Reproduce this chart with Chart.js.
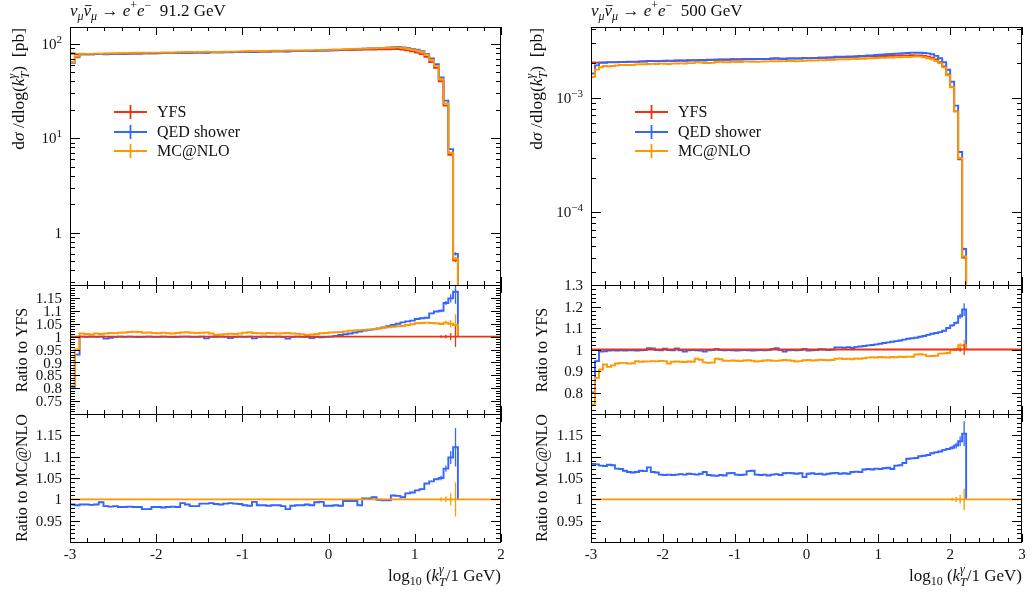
<!DOCTYPE html>
<html>
<head>
<meta charset="utf-8">
<script src="https://cdn.jsdelivr.net/npm/chart.js@4.4.0/dist/chart.umd.min.js"></script>
<style>
    html, body { margin: 0; padding: 0; background: #fff; }
    #wrap { position: relative; width: 1033px; height: 592px; }
    #wrap canvas { position: absolute; left: 0; top: 0; }
</style>
</head>
<body>
<div id="wrap">
    <canvas id="main91" width="1033" height="592"></canvas>
    <canvas id="ratioYfs91" width="1033" height="592"></canvas>
    <canvas id="ratioMc91" width="1033" height="592"></canvas>
    <canvas id="main500" width="1033" height="592"></canvas>
    <canvas id="ratioYfs500" width="1033" height="592"></canvas>
    <canvas id="ratioMc500" width="1033" height="592"></canvas>
</div>
<script>
// binning in log10(kT/GeV): 18 bins per decade, starting at -3
const xLo = -3;
const binW = 1 / 18;

// ---- 91.2 GeV: YFS d(sigma)/dlog(kT) [pb], one value per bin ----
const yfs91 = [79.0, 77.4, 77.6, 77.7, 77.8, 78.0, 78.1, 78.3, 78.4, 78.5,
    78.7, 78.8, 79.0, 79.1, 79.2, 79.4, 79.5, 79.7, 79.8, 79.9,
    80.1, 80.2, 80.4, 80.5, 80.6, 80.8, 80.9, 81.1, 81.2, 81.4,
    81.5, 81.7, 81.8, 82.0, 82.1, 82.3, 82.4, 82.6, 82.7, 82.9,
    83.0, 83.2, 83.4, 83.5, 83.7, 83.9, 84.0, 84.2, 84.4, 84.5,
    84.7, 84.9, 85.1, 85.3, 85.5, 85.7, 85.9, 86.1, 86.3, 86.5,
    86.7, 86.9, 87.1, 87.3, 87.5, 87.7, 87.9, 88.1, 88.3, 87.0,
    85.4, 83.4, 81.2, 78.0, 72.8, 64.2, 55.7, 40.2, 22.2, 6.7,
    0.51];
const qedOverYfs91 = [0.80, 0.93, 1.0, 0.999, 1.0, 0.999, 1.0, 0.992, 0.995, 0.999,
    1.0, 0.999, 1.0, 0.999, 0.998, 0.999, 1.0, 0.999, 0.999, 1.0,
    0.999, 0.998, 0.999, 1.0, 1.0, 0.999, 0.999, 1.0, 0.993, 0.999,
    0.999, 1.0, 0.999, 0.994, 0.999, 1.0, 0.999, 1.0, 0.993, 0.999,
    1.0, 0.999, 0.999, 1.0, 0.999, 0.992, 0.999, 1.0, 0.999, 0.999,
    0.994, 0.998, 0.997, 0.999, 1.0, 1.003, 1.006, 1.009, 1.012, 1.016,
    1.02, 1.023, 1.026, 1.028, 1.032, 1.035, 1.04, 1.045, 1.05, 1.055,
    1.059, 1.062, 1.068, 1.071, 1.073, 1.09, 1.097, 1.1, 1.13, 1.148,
    1.174];
const mcOverYfs91 = [0.81, 0.95, 1.012, 1.01, 1.008, 1.012, 1.01, 1.012, 1.014, 1.013,
    1.015, 1.016, 1.018, 1.019, 1.018, 1.015, 1.016, 1.014, 1.013, 1.015,
    1.013, 1.012, 1.014, 1.016, 1.017, 1.015, 1.014, 1.015, 1.016, 1.012,
    1.006, 1.008, 1.009, 1.011, 1.01, 1.012, 1.015, 1.017, 1.014, 1.013,
    1.012, 1.014, 1.013, 1.012, 1.013, 1.014, 1.012, 1.011, 1.009, 1.006,
    1.008, 1.01, 1.013, 1.014, 1.016, 1.017, 1.018, 1.02, 1.023, 1.024,
    1.025, 1.026, 1.028, 1.029, 1.031, 1.035, 1.036, 1.038, 1.04, 1.041,
    1.045, 1.048, 1.052, 1.053, 1.054, 1.053, 1.052, 1.049, 1.054, 1.05,
    1.045];
const qedOverMc91 = [0.988, 0.986, 0.988, 0.988, 0.987, 0.988, 0.993, 0.984, 0.983, 0.984,
    0.982, 0.982, 0.983, 0.982, 0.982, 0.977, 0.977, 0.982, 0.982, 0.981,
    0.982, 0.983, 0.982, 0.991, 0.988, 0.984, 0.984, 0.99, 0.99, 0.991,
    0.989, 0.988, 0.99, 0.991, 0.99, 0.989, 0.986, 0.985, 0.994, 0.986,
    0.986, 0.985, 0.986, 0.986, 0.984, 0.977, 0.985, 0.986, 0.986, 0.988,
    0.986, 0.993, 0.994, 0.985, 0.985, 0.986, 0.985, 0.996, 0.996, 0.996,
    0.986, 1.002, 1.002, 1.005, 0.999, 0.998, 0.998, 1.009, 1.008, 1.005,
    1.014, 1.016, 1.021, 1.024, 1.037, 1.042, 1.047, 1.05, 1.072, 1.098,
    1.122];

// ---- 500 GeV ----
const yfs500 = [2.04e-3, 2.03e-3, 2.04e-3, 2.04e-3, 2.05e-3, 2.05e-3, 2.05e-3, 2.06e-3, 2.06e-3, 2.07e-3,
    2.07e-3, 2.07e-3, 2.08e-3, 2.08e-3, 2.09e-3, 2.09e-3, 2.09e-3, 2.10e-3, 2.10e-3, 2.11e-3,
    2.11e-3, 2.11e-3, 2.12e-3, 2.12e-3, 2.13e-3, 2.13e-3, 2.13e-3, 2.14e-3, 2.14e-3, 2.15e-3,
    2.15e-3, 2.15e-3, 2.16e-3, 2.16e-3, 2.16e-3, 2.17e-3, 2.17e-3, 2.17e-3, 2.18e-3, 2.18e-3,
    2.18e-3, 2.19e-3, 2.19e-3, 2.19e-3, 2.19e-3, 2.20e-3, 2.20e-3, 2.20e-3, 2.20e-3, 2.21e-3,
    2.21e-3, 2.21e-3, 2.21e-3, 2.22e-3, 2.22e-3, 2.23e-3, 2.23e-3, 2.24e-3, 2.24e-3, 2.25e-3,
    2.25e-3, 2.26e-3, 2.26e-3, 2.27e-3, 2.27e-3, 2.28e-3, 2.28e-3, 2.29e-3, 2.29e-3, 2.30e-3,
    2.30e-3, 2.31e-3, 2.32e-3, 2.32e-3, 2.33e-3, 2.33e-3, 2.34e-3, 2.34e-3, 2.35e-3, 2.35e-3,
    2.36e-3, 2.35e-3, 2.34e-3, 2.32e-3, 2.29e-3, 2.24e-3, 2.16e-3, 2.05e-3, 1.88e-3, 1.60e-3,
    1.24e-3, 0.76e-3, 0.29e-3, 0.040e-3];
const qedOverYfs500 = [0.80, 0.946, 0.99, 0.992, 0.995, 0.996, 0.995, 0.996, 0.995, 0.996,
    0.996, 0.995, 0.996, 0.997, 1.006, 1.005, 0.997, 0.996, 1.004, 0.997,
    0.996, 1.005, 0.996, 0.991, 0.996, 0.997, 0.996, 0.995, 0.991, 0.996,
    0.997, 1.003, 0.997, 0.996, 0.997, 0.996, 0.995, 0.996, 0.997, 0.996,
    0.995, 0.996, 0.997, 0.996, 0.997, 1.003, 1.006, 0.997, 0.991, 0.996,
    0.997, 0.996, 0.997, 1.002, 0.995, 0.996, 0.997, 1.001, 1.0, 0.998,
    1.0, 1.01, 1.01, 1.008, 1.011, 1.007, 1.012, 1.014, 1.016, 1.019,
    1.021, 1.024, 1.027, 1.03, 1.033, 1.036, 1.039, 1.042, 1.046, 1.05,
    1.052, 1.055, 1.059, 1.063, 1.068, 1.073, 1.077, 1.081, 1.087, 1.1,
    1.112, 1.124, 1.155, 1.186];
const mcOverYfs500 = [0.744, 0.868, 0.907, 0.93, 0.919, 0.926, 0.935, 0.938, 0.938, 0.935,
    0.936, 0.946, 0.943, 0.944, 0.945, 0.946, 0.945, 0.947, 0.946, 0.935,
    0.943, 0.944, 0.943, 0.942, 0.944, 0.943, 0.957, 0.952, 0.94, 0.938,
    0.939, 0.957, 0.955, 0.948, 0.947, 0.949, 0.948, 0.946, 0.949, 0.95,
    0.948, 0.944, 0.946, 0.949, 0.95, 0.948, 0.947, 0.949, 0.951, 0.95,
    0.948, 0.944, 0.946, 0.95, 0.951, 0.949, 0.95, 0.952, 0.951, 0.95,
    0.951, 0.957, 0.958, 0.956, 0.957, 0.955, 0.958, 0.957, 0.959, 0.962,
    0.964, 0.963, 0.965, 0.964, 0.963, 0.965, 0.964, 0.966, 0.965, 0.967,
    0.966, 0.977, 0.978, 0.976, 0.969, 0.97, 0.971, 0.981, 0.982, 0.984,
    0.998, 1.0, 1.02, 1.02];
const qedOverMc500 = [1.083, 1.082, 1.079, 1.078, 1.081, 1.08, 1.072, 1.071, 1.067, 1.064,
    1.063, 1.064, 1.067, 1.066, 1.075, 1.064, 1.063, 1.058, 1.057, 1.058,
    1.057, 1.058, 1.059, 1.058, 1.06, 1.059, 1.058, 1.06, 1.064, 1.057,
    1.056, 1.055, 1.057, 1.056, 1.061, 1.062, 1.058, 1.057, 1.058, 1.066,
    1.067, 1.058, 1.057, 1.058, 1.056, 1.058, 1.059, 1.057, 1.061, 1.062,
    1.061, 1.06, 1.061, 1.052, 1.06, 1.061, 1.059, 1.06, 1.058, 1.06,
    1.061, 1.062, 1.06, 1.061, 1.06, 1.064, 1.065, 1.064, 1.07, 1.071,
    1.07, 1.072, 1.071, 1.073, 1.074, 1.071, 1.079, 1.08, 1.085, 1.095,
    1.096, 1.097, 1.101, 1.102, 1.104, 1.108, 1.11, 1.112, 1.116, 1.118,
    1.121, 1.126, 1.136, 1.154];

// relative statistical errors: small everywhere, larger in the last bins
const baseErr = 0.0015;
const tailErr91 = [0.005, 0.007, 0.014, 0.04];
const tailErr500 = [0.004, 0.006, 0.01, 0.025];

// axis ticks
const xTicks91 = [-3, -2, -1, 0, 1, 2];
const xTicks500 = [-3, -2, -1, 0, 1, 2, 3];
const mainTicks91 = [1, 10, 100];
const mainTicks500 = [1e-4, 1e-3];
const ratioYfsTicks91 = [0.75, 0.8, 0.85, 0.9, 0.95, 1, 1.05, 1.1, 1.15];
const ratioYfsTicks500 = [0.8, 0.9, 1, 1.1, 1.2, 1.3];
const ratioMcTicks = [0.95, 1, 1.05, 1.1, 1.15];

const names = ['YFS', 'QED shower', 'MC@NLO'];
const cYFS = '#ee3311', cQED = '#3366ff', cMC = '#ff9900';
const FONT = '"Liberation Serif", "DejaVu Serif", serif';
const W = 1033, H = 592;

// ---------------------------------------------------------------

function histLine(vals, tailY) {
    const pts = [];
    vals.forEach((v, i) => {
        pts.push({ x: xLo + i * binW, y: v });
        pts.push({ x: xLo + (i + 1) * binW, y: v });
    });
    pts.push({ x: xLo + vals.length * binW, y: tailY });
    return pts;
}

function errList(n, tail) {
    const out = [];
    for (let i = 0; i < n; i++) {
        const k = i - (n - tail.length);
        out.push(k >= 0 ? tail[k] : baseErr);
    }
    return out;
}

function series(label, color, vals, tailY, errs, xEnd) {
    const data = histLine(vals, tailY);
    if (xEnd !== undefined) data.push({ x: xEnd, y: tailY });
    return {
        label: label,
        data: data,
        borderColor: color,
        borderWidth: 1.9,
        fill: false,
        clip: 0,
        vals: vals,
        errs: errs
    };
}

// rich text: segments [text, 'i'|'r', 'sub'|'sup'|'ss', 'bar']
function drawRich(ctx, segs, x, y, size, align) {
    const items = segs.map((s) => {
        const fs = s[2] ? Math.round(size * 0.7) : size;
        const font = (s[1] === 'i' ? 'italic ' : '') + fs + 'px ' + FONT;
        ctx.font = font;
        const w = s[2] === 'ss'
            ? Math.max(ctx.measureText(s[0][0]).width, ctx.measureText(s[0][1]).width)
            : ctx.measureText(s[0]).width;
        return { t: s[0], font: font, pos: s[2], deco: s[3], w: w };
    });
    const total = items.reduce((s, it) => s + it.w, 0);
    let cx = align === 'right' ? x - total : align === 'center' ? x - total / 2 : x;
    const base = y + size * 0.34;
    ctx.textAlign = 'left';
    ctx.textBaseline = 'alphabetic';
    items.forEach((it) => {
        ctx.font = it.font;
        if (it.pos === 'ss') {
            ctx.fillText(it.t[0], cx, base + size * 0.28);
            ctx.fillText(it.t[1], cx, base - size * 0.48);
        } else {
            const dy = it.pos === 'sub' ? size * 0.26 : it.pos === 'sup' ? -size * 0.42 : 0;
            ctx.fillText(it.t, cx, base + dy);
        }
        if (it.deco === 'bar') {
            ctx.save();
            ctx.lineWidth = 0.9;
            ctx.strokeStyle = ctx.fillStyle;
            ctx.beginPath();
            ctx.moveTo(cx + 1.5, base - size * 0.6);
            ctx.lineTo(cx + it.w + 0.5, base - size * 0.6);
            ctx.stroke();
            ctx.restore();
        }
        cx += it.w;
    });
    return total;
}

function logLabel(v) {
    if (v === 1) return [['1', 'r']];
    const e = Math.round(Math.log10(v));
    return [['10', 'r'], [(e < 0 ? '\u2212' : '') + Math.abs(e), 'r', 'sup']];
}

function linMinor(min, max, step) {
    const out = [];
    const n = Math.round((max - min) / step);
    for (let i = 0; i <= n; i++) out.push(min + i * step);
    return out;
}

function logMinor(min, max) {
    const out = [];
    for (let e = Math.floor(Math.log10(min)); e <= Math.ceil(Math.log10(max)); e++) {
        for (let m = 2; m <= 9; m++) {
            const v = m * Math.pow(10, e);
            if (v > min && v < max) out.push(v);
        }
    }
    return out;
}

const panels = {};

const decor = {
    id: 'decor',
    afterDatasetsDraw(chart) {
        const p = panels[chart.canvas.id];
        const ctx = chart.ctx, a = chart.chartArea;
        const xs = chart.scales.x, ys = chart.scales.y;

        // error bars at bin centres
        ctx.save();
        ctx.beginPath();
        ctx.rect(a.left, a.top, a.right - a.left, a.bottom - a.top);
        ctx.clip();
        chart.data.datasets.slice().reverse().forEach((ds) => {
            ctx.strokeStyle = ds.borderColor;
            ctx.lineWidth = 1.3;
            const isRef = p.refLabel === ds.label;
            ds.vals.forEach((v, i) => {
                const e = ds.errs[i];
                const yv = isRef ? 1 : v;
                const px = xs.getPixelForValue(xLo + (i + 0.5) * binW);
                ctx.beginPath();
                ctx.moveTo(px, ys.getPixelForValue(yv * (1 - e)));
                ctx.lineTo(px, ys.getPixelForValue(yv * (1 + e)));
                ctx.stroke();
            });
        });
        ctx.restore();

        ctx.save();
        ctx.strokeStyle = '#000';
        ctx.fillStyle = '#111';
        ctx.lineWidth = 1;
        ctx.strokeRect(a.left + 0.5, a.top + 0.5, a.right - a.left - 1, a.bottom - a.top);

        const line = (x1, y1, x2, y2) => {
            ctx.beginPath();
            ctx.moveTo(x1, y1);
            ctx.lineTo(x2, y2);
            ctx.stroke();
        };

        // x ticks, inward on top and bottom
        linMinor(p.xMin, p.xMax, 0.2).forEach((v) => {
            const isMajor = Math.abs(v - Math.round(v)) < 1e-6;
            const len = isMajor ? 8 : 4;
            const px = Math.round(xs.getPixelForValue(v)) + 0.5;
            line(px, a.top, px, a.top + len);
            line(px, a.bottom, px, a.bottom - len);
        });

        // y ticks, inward on left and right
        p.yMinor.forEach((v) => {
            const py = Math.round(ys.getPixelForValue(v)) + 0.5;
            line(a.left, py, a.left + 5, py);
            line(a.right, py, a.right - 5, py);
        });
        p.yMajor.forEach((v) => {
            const py = Math.round(ys.getPixelForValue(v)) + 0.5;
            line(a.left, py, a.left + 10, py);
            line(a.right, py, a.right - 10, py);
        });

        // y tick labels
        p.yLabels.forEach((v) => {
            const segs = p.yType === 'logarithmic' ? logLabel(v) : [[String(v), 'r']];
            drawRich(ctx, segs, a.left - 8, ys.getPixelForValue(v), 15, 'right');
        });

        // x tick labels and title on the bottom panel
        if (p.xLabels) {
            p.xLabels.forEach((v) => {
                drawRich(ctx, [[String(v), 'r']], xs.getPixelForValue(v), a.bottom + 12, 15, 'center');
            });
            drawRich(ctx, [['log', 'r'], ['10', 'r', 'sub'], [' (', 'r'], ['k', 'i'],
                [['T', '\u03b3'], 'i', 'ss'], ['/1 GeV)', 'r']], a.right, a.bottom + 33, 17, 'right');
        }

        // y axis title
        ctx.save();
        ctx.translate(p.yTitleX, p.yTitleY);
        ctx.rotate(-Math.PI / 2);
        drawRich(ctx, p.yTitle, 0, 0, p.yTitleSize, p.yTitleAlign);
        ctx.restore();

        // plot title
        if (p.title) drawRich(ctx, p.title, a.left, 10, 17, 'left');

        // legend
        if (p.legend) {
            const colors = [cYFS, cQED, cMC];
            const lx = a.left + 44, ly = [112, 132, 151];
            names.forEach((n, i) => {
                ctx.strokeStyle = colors[i];
                ctx.lineWidth = 1.8;
                line(lx, ly[i], lx + 33, ly[i]);
                line(lx + 16.5, ly[i] - 7, lx + 16.5, ly[i] + 7);
                ctx.fillStyle = '#111';
                drawRich(ctx, [[n, 'r']], lx + 43, ly[i], 16, 'left');
            });
        }
        ctx.restore();
    }
};

function makePanel(id, p, datasets) {
    panels[id] = p;
    return new Chart(document.getElementById(id), {
        type: 'line',
        data: { datasets: datasets },
        options: {
            responsive: false,
            animation: false,
            devicePixelRatio: 1,
            events: [],
            layout: { padding: { left: p.left, right: W - p.right, top: p.top, bottom: H - p.bottom } },
            scales: {
                x: { type: 'linear', min: p.xMin, max: p.xMax, display: false },
                y: { type: p.yType, min: p.yMin, max: p.yMax, display: false }
            },
            elements: { point: { radius: 0 }, line: { tension: 0 } },
            plugins: { legend: { display: false }, tooltip: { enabled: false } }
        },
        plugins: [decor]
    });
}

const yTitleMain = [['d', 'r'], ['\u03c3', 'i'], [' /', 'r'], ['dlog(', 'r'], ['k', 'i'],
    [['T', '\u03b3'], 'i', 'ss'], [')', 'r'], ['  [pb]', 'r']];
const yTitleYfs = [['Ratio to YFS', 'r']];
const yTitleMc = [['Ratio to MC@NLO', 'r']];

function processTitle(energy) {
    return [['\u03bd', 'i'], ['\u03bc', 'i', 'sub'], ['\u03bd', 'i', 0, 'bar'], ['\u03bc', 'i', 'sub'],
        [' \u2192 ', 'r'], ['e', 'i'], ['+', 'r', 'sup'], ['e', 'i'], ['\u2212', 'r', 'sup'],
        ['  ' + energy + ' GeV', 'r']];
}

// one column per energy
function buildColumn(cfg) {
    const n = cfg.yfs.length;
    const errs = errList(n, cfg.tailErr);
    const qedMain = cfg.yfs.map((v, i) => v * cfg.qedOverYfs[i]);
    const mcMain = cfg.yfs.map((v, i) => v * cfg.mcOverYfs[i]);
    const ones = cfg.yfs.map((v) => v / v);
    const floor = cfg.mainMin / 100;

    makePanel('main' + cfg.id, {
        left: cfg.left, right: cfg.right, top: 27, bottom: 285,
        xMin: -3, xMax: cfg.xMax, yType: 'logarithmic', yMin: cfg.mainMin, yMax: cfg.mainMax,
        yMajor: cfg.mainTicks, yMinor: logMinor(cfg.mainMin, cfg.mainMax), yLabels: cfg.mainTicks,
        yTitle: yTitleMain, yTitleSize: 17.5, yTitleX: cfg.left - cfg.mainTitleDx, yTitleY: 28,
        yTitleAlign: 'right', title: processTitle(cfg.energy), legend: true
    }, [
        series('MC@NLO', cMC, mcMain, floor, errs),
        series('QED shower', cQED, qedMain, floor, errs),
        series('YFS', cYFS, cfg.yfs, floor, errs)
    ]);

    makePanel('ratioYfs' + cfg.id, {
        left: cfg.left, right: cfg.right, top: 285, bottom: 414,
        xMin: -3, xMax: cfg.xMax, yType: 'linear', yMin: 0.7, yMax: cfg.ratioYfsMax,
        yMajor: cfg.ratioYfsTicks, yMinor: linMinor(0.7, cfg.ratioYfsMax, cfg.ratioYfsMinor),
        yLabels: cfg.ratioYfsTicks, refLabel: 'YFS',
        yTitle: yTitleYfs, yTitleSize: 16, yTitleX: cfg.left - cfg.ratioTitleDx, yTitleY: 350,
        yTitleAlign: 'center'
    }, [
        series('YFS', cYFS, ones, 1, errs, cfg.xMax),
        series('MC@NLO', cMC, cfg.mcOverYfs, 1, errs),
        series('QED shower', cQED, cfg.qedOverYfs, 1, errs)
    ]);

    makePanel('ratioMc' + cfg.id, {
        left: cfg.left, right: cfg.right, top: 414, bottom: 542,
        xMin: -3, xMax: cfg.xMax, yType: 'linear', yMin: 0.9, yMax: 1.2,
        yMajor: ratioMcTicks, yMinor: linMinor(0.9, 1.2, 0.01), yLabels: ratioMcTicks,
        refLabel: 'MC@NLO', xLabels: cfg.xTicks,
        yTitle: yTitleMc, yTitleSize: 16, yTitleX: cfg.left - cfg.ratioTitleDx, yTitleY: 478,
        yTitleAlign: 'center'
    }, [
        series('MC@NLO', cMC, ones, 1, errs, cfg.xMax),
        series('QED shower', cQED, cfg.qedOverMc, 1, errs)
    ]);
}

buildColumn({
    id: '91', energy: '91.2', left: 70, right: 501, xMax: 2, xTicks: xTicks91,
    yfs: yfs91, qedOverYfs: qedOverYfs91, mcOverYfs: mcOverYfs91, qedOverMc: qedOverMc91,
    tailErr: tailErr91, mainMin: 0.28, mainMax: 151, mainTicks: mainTicks91,
    ratioYfsMax: 1.2, ratioYfsTicks: ratioYfsTicks91, ratioYfsMinor: 0.01,
    mainTitleDx: 52, ratioTitleDx: 48
});

buildColumn({
    id: '500', energy: '500', left: 591, right: 1022, xMax: 3, xTicks: xTicks500,
    yfs: yfs500, qedOverYfs: qedOverYfs500, mcOverYfs: mcOverYfs500, qedOverMc: qedOverMc500,
    tailErr: tailErr500, mainMin: 2.3e-5, mainMax: 4.16e-3, mainTicks: mainTicks500,
    ratioYfsMax: 1.3, ratioYfsTicks: ratioYfsTicks500, ratioYfsMinor: 0.02,
    mainTitleDx: 55, ratioTitleDx: 49
});
</script>
</body>
</html>
